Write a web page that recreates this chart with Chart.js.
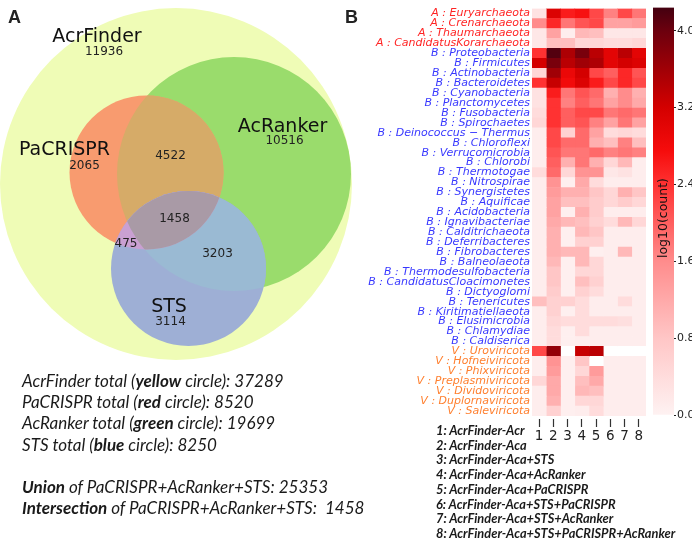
<!DOCTYPE html>
<html>
<head>
<meta charset="utf-8">
<script src="https://cdn.jsdelivr.net/npm/chart.js@4.4.1/dist/chart.umd.min.js"></script>
<style>
  body { margin: 0; background: #fff; }
  #wrap { position: relative; width: 692px; height: 540px; overflow: hidden; }
  canvas { position: absolute; }
  #venn { left: 0; top: 0; }
  #heat { left: 356px; top: 0; }
  #cbar { left: 640px; top: 0; }
  .panel { position: absolute; top: 8px; font: bold 18px "Liberation Sans", Arial, sans-serif; line-height: 18px; color: #222; }
  #totals { position: absolute; left: 22px; top: 370px; font: italic 17px Lato, sans-serif; line-height: 21.2px; color: #1a1a1a; white-space: nowrap; }
  #keys { position: absolute; left: 436px; top: 423px; font: italic bold 12.8px Lato, sans-serif; line-height: 14.7px; color: #1a1a1a; white-space: nowrap; }
</style>
</head>
<body>
<div id="wrap">
  <canvas id="venn" width="370" height="370"></canvas>
  <canvas id="heat" width="294" height="450"></canvas>
  <canvas id="cbar" width="52" height="432"></canvas>
  <div class="panel" style="left:8px">A</div>
  <div class="panel" style="left:345px">B</div>
  <div id="totals"></div>
  <div id="keys"></div>
</div>
<script>
// ---- panel A: venn counts ----
const setNames = ['AcrFinder', 'PaCRISPR', 'AcRanker', 'STS'];
const setColours = ['yellow', 'red', 'green', 'blue'];
const setOnly = [11936, 2065, 10516, 3114];
const setTotals = [37289, 8520, 19699, 8250];
// PaCRISPR+AcRanker, all three, PaCRISPR+STS, AcRanker+STS
const overlapCounts = [4522, 1458, 475, 3203];
const unionTotal = 25353;
const intersectTotal = 1458;

// ---- panel B: heatmap rows / columns ----
const archaea = ['Euryarchaeota', 'Crenarchaeota', 'Thaumarchaeota', 'CandidatusKorarchaeota'];
const bacteria = ['Proteobacteria', 'Firmicutes', 'Actinobacteria', 'Bacteroidetes', 'Cyanobacteria',
  'Planctomycetes', 'Fusobacteria', 'Spirochaetes', 'Deinococcus \u2212 Thermus', 'Chloroflexi',
  'Verrucomicrobia', 'Chlorobi', 'Thermotogae', 'Nitrospirae', 'Synergistetes', 'Aquificae',
  'Acidobacteria', 'Ignavibacteriae', 'Calditrichaeota', 'Deferribacteres', 'Fibrobacteres',
  'Balneolaeota', 'Thermodesulfobacteria', 'CandidatusCloacimonetes', 'Dictyoglomi', 'Tenericutes',
  'Kiritimatiellaeota', 'Elusimicrobia', 'Chlamydiae', 'Caldiserica'];
const viruses = ['Uroviricota', 'Hofneiviricota', 'Phixviricota', 'Preplasmiviricota',
  'Dividoviricota', 'Duplornaviricota', 'Saleviricota'];

const colTicks = ['1', '2', '3', '4', '5', '6', '7', '8'];
const colNames = ['AcrFinder-Acr', 'AcrFinder-Aca', 'AcrFinder-Aca+STS', 'AcrFinder-Aca+AcRanker',
  'AcrFinder-Aca+PaCRISPR', 'AcrFinder-Aca+STS+PaCRISPR', 'AcrFinder-Aca+STS+AcRanker',
  'AcrFinder-Aca+STS+PaCRISPR+AcRanker'];

// log10(count) per row, one array per column (null = no data)
const acr = [0.3, 1.6, 0.2, 0.2, 2.4, 3.2, 0.5, 2.4, 0.3, 0.3, 0.4, 0.5, 0.1, 0.1, 0.1, 0.1, 0.4, 0.1, 0.1, 0.1,
  0.1, 0.1, 0.1, 0.1, 0.1, 0.1, 0.1, 0.1, 0.1, 0.9, 0.1, 0.1, 0.1, 0.1, 2.2, 0.1, 0.1, 0.5, 0.1, 0.1, 0.1];
const aca = [3.1, 2.5, 1.3, 0.9, 4.15, 3.9, 3.6, 3.3, 2.6, 2.4, 2.4, 2.4, 2.2, 2.2, 2.1, 2.0, 1.9, 1.5, 1.4, 1.3,
  1.3, 1.2, 1.1, 1.1, 1.1, 1.0, 0.8, 0.8, 0.7, 0.6, 0.6, 0.5, 0.4, 0.4, 3.7, 1.5, 1.4, 1.2, 1.2, 1.1, 0.6];
const acaSts = [2.6, 1.8, 0.1, 0.9, 3.5, 3.4, 2.9, 2.8, 1.8, 1.7, 2.0, 2.0, 0.6, 1.9, 1.8, 1.1, 0.5, 0.05, 1.1, 0.9,
  0.05, 1.0, 0.05, 0.05, 1.0, 0.05, 0.05, 0.05, 0.05, 0.6, 0.05, 0.4, 0.05, 0.05, null, 0.05, 0.05, 0.05, 0.05, 0.05, 0.05];
const acaRanker = [2.7, 2.1, 1.0, 0.5, 3.9, 3.6, 3.2, 3.1, 2.1, 2.0, 2.2, 2.1, 1.9, 1.9, 1.8, 1.8, 1.5, 1.2, 1.1, 0.9,
  1.1, 0.9, 1.0, 0.6, 1.0, 1.0, 0.5, 0.9, 0.6, 0.4, 0.4, 0.4, 0.4, 0.1, 3.3, 0.8, 0.5, 0.9, 1.0, 0.5, 0.1];
const acaPacrispr = [2.2, 2.2, 0.9, 0.5, 3.4, 3.5, 2.2, 2.6, 1.9, 1.8, 2.2, 1.7, 1.3, 1.1, 1.9, 1.1, 1.5, 0.4, 0.8, 0.7,
  0.7, 0.6, 0.8, 0.6, 0.05, 0.5, 0.5, 0.6, 0.4, 0.1, 0.1, 0.4, 0.1, 0.1, 3.4, null, 1.4, 1.2, 0.9, 0.5, 0.4];
const acaStsPacrispr = [1.7, 1.3, 0.2, 0.4, 3.0, 3.0, 2.0, 2.2, 1.1, 1.3, 1.8, 1.3, 0.4, 0.9, 1.7, 0.5, 0.2, 0.1, 0.5, 0.5,
  0.1, 0.4, 0.1, 0.1, 0.1, 0.1, 0.1, 0.1, 0.1, 0.1, 0.1, 0.4, 0.1, 0.1, null, 0.1, 0.1, 0.1, 0.1, 0.1, 0.1];
const acaStsRanker = [2.2, 1.3, 0.2, 0.4, 3.4, 3.2, 2.5, 2.5, 1.6, 1.6, 1.9, 1.8, 0.5, 1.7, 1.8, 1.0, 0.3, 0.1, 1.1, 0.7,
  0.1, 1.0, 0.1, 0.1, 1.0, 0.1, 0.1, 0.1, 0.1, 0.4, 0.1, 0.35, 0.1, 0.1, null, 0.1, 0.1, 0.1, 0.1, 0.1, 0.1];
const acaAll = [1.8, 1.4, 0.2, 0.5, 3.0, 3.1, 2.1, 2.2, 1.1, 1.2, 1.8, 1.3, 0.4, 0.9, 1.7, 0.1, 0.1, 0.1, 0.8, 0.5,
  0.1, 0.5, 0.1, 0.1, 0.1, 0.1, 0.1, 0.1, 0.1, 0.1, 0.1, 0.1, 0.1, 0.1, null, 0.1, 0.1, 0.1, 0.1, 0.1, 0.1];

const cbarTicks = [0, 0.8, 1.6, 2.4, 3.2, 4.0];
const cbarMax = 4.24;

// ---- styling ----
const columns = [acr, aca, acaSts, acaRanker, acaPacrispr, acaStsPacrispr, acaStsRanker, acaAll];
const rowLabels = [...archaea.map(n => 'A : ' + n), ...bacteria.map(n => 'B : ' + n), ...viruses.map(n => 'V : ' + n)];
const groupColors = { A: '#ff2424', B: '#3838ff', V: '#ff7f2e' };
const cmap = [[0, [254, 242, 242]], [0.8, [255, 198, 198]], [1.6, [255, 140, 140]], [2.4, [255, 50, 50]],
  [2.75, [246, 12, 12]], [3.2, [212, 0, 0]], [3.6, [160, 0, 6]], [4.0, [108, 0, 14]], [4.24, [68, 0, 16]]];

function rgb(c) { return 'rgb(' + c.map(Math.round).join(',') + ')'; }
function colorFor(v) {
  if (v === null || v === undefined) return '#ffffff';
  for (let i = 1; i < cmap.length; i++) {
    if (v <= cmap[i][0]) {
      const [v0, c0] = cmap[i - 1], [v1, c1] = cmap[i];
      const t = (v - v0) / (v1 - v0);
      return rgb(c0.map((c, k) => c + (c1[k] - c) * t));
    }
  }
  return rgb(cmap[cmap.length - 1][1]);
}

// text blocks
document.getElementById('totals').innerHTML =
  setNames.map((n, i) => `${n} total (<b>${setColours[i]}</b> circle): ${setTotals[i]}`).join('<br>') +
  `<br><br><b>Union</b> of PaCRISPR+AcRanker+STS: ${unionTotal}` +
  `<br><b>Intersection</b> of PaCRISPR+AcRanker+STS:&nbsp; ${intersectTotal}`;
document.getElementById('keys').innerHTML = colNames.map((n, i) => `${colTicks[i]}: ${n}`).join('<br>');

// ---- venn ----
const circles = {
  AcrFinder: { cx: 176, cy: 184, r: 176 },
  AcRanker: { cx: 234, cy: 174, r: 117 },
  PaCRISPR: { cx: 146.5, cy: 172.5, r: 77 },
  STS: { cx: 188.5, cy: 268.5, r: 77.5 }
};
const nameSpots = { AcrFinder: [97, 42, 104, 55], PaCRISPR: [64.5, 155, 84.5, 169], AcRanker: [282.5, 132, 284.5, 144], STS: [169, 312, 170.5, 325] };
const overlapSpots = [[170.5, 159], [174.5, 222], [126, 247], [217.5, 257]];

const vennPlugin = {
  id: 'venn',
  beforeDatasetsDraw(chart) {
    const { ctx, scales: { x, y } } = chart;
    const path = name => {
      const c = circles[name];
      ctx.beginPath();
      ctx.arc(x.getPixelForValue(c.cx), y.getPixelForValue(c.cy), x.getPixelForValue(c.r) - x.getPixelForValue(0), 0, Math.PI * 2);
    };
    const fill = (name, col, clips) => {
      ctx.save();
      (clips || []).forEach(cl => { path(cl); ctx.clip(); });
      path(name);
      ctx.fillStyle = col;
      ctx.fill();
      ctx.restore();
    };
    fill('AcrFinder', '#effcb6');
    fill('AcRanker', '#9adc6c');
    fill('PaCRISPR', '#f89b6f');
    fill('AcRanker', '#d6ab68', ['PaCRISPR']);
    fill('STS', '#9eafd5');
    fill('AcRanker', '#9abad3', ['STS']);
    fill('PaCRISPR', '#c9a0d2', ['STS']);
    fill('AcRanker', '#a99aa6', ['STS', 'PaCRISPR']);

    ctx.save();
    ctx.textAlign = 'center';
    ctx.textBaseline = 'alphabetic';
    setNames.forEach((n, i) => {
      const s = nameSpots[n];
      ctx.fillStyle = '#111';
      ctx.font = '19px "DejaVu Sans"';
      ctx.fillText(n, x.getPixelForValue(s[0]), y.getPixelForValue(s[1]));
      ctx.fillStyle = '#222';
      ctx.font = '12px "DejaVu Sans"';
      ctx.fillText(String(setOnly[i]), x.getPixelForValue(s[2]), y.getPixelForValue(s[3]));
    });
    overlapCounts.forEach((v, i) => {
      ctx.fillText(String(v), x.getPixelForValue(overlapSpots[i][0]), y.getPixelForValue(overlapSpots[i][1]));
    });
    ctx.restore();
  }
};

new Chart(document.getElementById('venn'), {
  type: 'scatter',
  data: { datasets: [] },
  options: {
    responsive: false, animation: false,
    layout: { padding: 0 },
    plugins: { legend: { display: false }, tooltip: { enabled: false } },
    scales: {
      x: { display: false, min: 0, max: 370 },
      y: { display: false, min: 0, max: 370, reverse: true }
    }
  },
  plugins: [vennPlugin]
});

// ---- heatmap ----
new Chart(document.getElementById('heat'), {
  type: 'bar',
  data: {
    labels: rowLabels,
    datasets: columns.map((vals, ci) => ({
      label: colNames[ci],
      data: vals.map((v, ri) => ({ x: 1, y: rowLabels[ri], v: v })),
      backgroundColor: ctx => colorFor(ctx.raw ? ctx.raw.v : null),
      borderWidth: 0,
      barPercentage: 1,
      categoryPercentage: 1
    }))
  },
  options: {
    indexAxis: 'y',
    responsive: false, animation: false,
    layout: { padding: { top: 2, right: 4 } },
    plugins: { legend: { display: false }, tooltip: { enabled: false } },
    scales: {
      x: {
        type: 'linear', stacked: true, min: 0, max: 8,
        afterBuildTicks: s => { s.ticks = colTicks.map((t, i) => ({ value: i + 0.5 })); },
        afterFit: s => { s.height = 34; },
        ticks: { autoSkip: false, maxRotation: 0, callback: (v, i) => colTicks[i], font: { family: 'DejaVu Sans', size: 13.5 }, color: '#222', padding: 1 },
        grid: { drawOnChartArea: false, tickLength: 11, tickColor: '#333', tickWidth: 1.2, tickBorderDash: [0, 3, 8, 20] },
        border: { display: false }
      },
      y: {
        stacked: true,
        afterFit: s => { s.width = 176; },
        grid: { display: false, drawTicks: false },
        border: { display: false },
        ticks: {
          autoSkip: false, padding: 2,
          font: { family: 'DejaVu Sans', size: 11, style: 'italic' },
          color: ctx => groupColors[rowLabels[ctx.index][0]]
        }
      }
    }
  }
});

// ---- colour bar ----
const cbarTitle = {
  id: 'cbarTitle',
  afterDatasetsDraw(chart) {
    const { ctx, chartArea, scales: { y } } = chart;
    ctx.save();
    ctx.translate((chartArea.left + chartArea.right) / 2 + 0.5, y.getPixelForValue(2.05));
    ctx.rotate(-Math.PI / 2);
    ctx.font = '12.5px "DejaVu Sans"';
    ctx.fillStyle = '#111';
    ctx.textAlign = 'center';
    ctx.textBaseline = 'middle';
    ctx.fillText('log10(count)', 0, 0);
    ctx.restore();
  }
};

new Chart(document.getElementById('cbar'), {
  type: 'bar',
  data: {
    labels: [''],
    datasets: [{
      data: [[0, cbarMax]],
      backgroundColor: ctx => {
        const ch = ctx.chart;
        if (!ch.chartArea) return '#f00';
        const y = ch.scales.y;
        const g = ch.ctx.createLinearGradient(0, y.getPixelForValue(0), 0, y.getPixelForValue(cbarMax));
        cmap.forEach(([v, c]) => g.addColorStop(v / cbarMax, rgb(c)));
        return g;
      },
      borderWidth: 0, barPercentage: 1, categoryPercentage: 1
    }]
  },
  options: {
    responsive: false, animation: false,
    layout: { padding: { left: 13, top: 2, bottom: 17 } },
    plugins: { legend: { display: false }, tooltip: { enabled: false } },
    scales: {
      x: { display: false },
      y: {
        position: 'right', min: 0, max: cbarMax,
        afterBuildTicks: s => { s.ticks = cbarTicks.map(v => ({ value: v })); },
        afterFit: s => { s.width = 18; },
        ticks: { callback: v => v.toFixed(1), font: { family: 'DejaVu Sans', size: 11 }, color: '#222', padding: 1 },
        grid: { drawOnChartArea: false, tickLength: 2, tickColor: '#222' },
        border: { display: false }
      }
    }
  },
  plugins: [cbarTitle]
});
</script>
</body>
</html>
